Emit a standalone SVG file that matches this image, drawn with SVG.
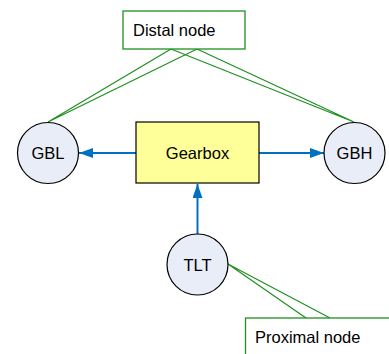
<svg xmlns="http://www.w3.org/2000/svg" width="389" height="354" viewBox="0 0 389 354">
<style>
text{font-family:"Liberation Sans",Arial,sans-serif;font-size:16.5px;fill:#000}
.c{fill:#E8EDF7;stroke:#000;stroke-width:1.2}
.b{fill:#FFFF99;stroke:#000;stroke-width:1.2}
.note{fill:#fff;stroke:#1F8F1F;stroke-width:1.3}
.cl{fill:none;stroke:#1F8F1F;stroke-width:1.2}
.a{stroke:#0070C0;stroke-width:2;fill:none;marker-end:url(#ah)}
</style>
<defs>
<marker id="ah" viewBox="0 0 14 10" refX="14" refY="5" markerWidth="14" markerHeight="10" markerUnits="userSpaceOnUse" orient="auto">
<path d="M0,0L14,5L0,10z" fill="#0070C0"/>
</marker>
</defs>
<g id="connectors">
<line class="a" x1="136" y1="153" x2="79" y2="153"/>
<line class="a" x1="259" y1="153" x2="324" y2="153"/>
<line class="a" x1="197.5" y1="234" x2="197.5" y2="184"/>
<polyline class="cl" points="171,49 48,122 197,49"/>
<polyline class="cl" points="171,49 354,122 197,49"/>
<polyline class="cl" points="306,318 228,264 330,318"/>
</g>
<g id="distal">
<rect class="note" x="123" y="11" width="122" height="38"/>
<text x="133" y="36">Distal node</text>
</g>
<g id="proximal">
<rect class="note" x="245.5" y="318" width="150" height="50"/>
<text x="255" y="343">Proximal node</text>
</g>
<g id="gbl">
<circle class="c" cx="48" cy="153" r="30.5"/>
<text x="48" y="159" text-anchor="middle">GBL</text>
</g>
<g id="gearbox">
<rect class="b" x="136" y="122" width="123" height="61"/>
<text x="197.5" y="159" text-anchor="middle">Gearbox</text>
</g>
<g id="gbh">
<circle class="c" cx="354.5" cy="153" r="30.5"/>
<text x="354.5" y="159" text-anchor="middle">GBH</text>
</g>
<g id="tlt">
<circle class="c" cx="197.5" cy="264.5" r="30.5"/>
<text x="197.5" y="270.5" text-anchor="middle">TLT</text>
</g>
</svg>
